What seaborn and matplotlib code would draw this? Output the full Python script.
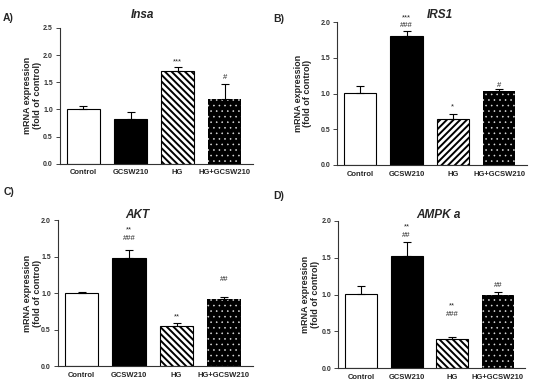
import numpy as np
import pandas as pd
import matplotlib
matplotlib.use('Agg')
import matplotlib.pyplot as plt
import seaborn as sns

# group means (fold of control), upper SEM and significance marks
groups = ['Control', 'GCSW210', 'HG', 'HG+GCSW210']

insa_mean = [1.00, 0.82, 1.70, 1.20]
insa_sem = [0.06, 0.14, 0.08, 0.27]
insa_marks = ['', '', '***', '#']

irs1_mean = [1.01, 1.80, 0.64, 1.03]
irs1_sem = [0.09, 0.08, 0.08, 0.03]
irs1_marks = ['', '***\n###', '*', '#']

akt_mean = [1.00, 1.48, 0.55, 0.92]
akt_sem = [0.01, 0.11, 0.04, 0.03]
akt_marks = ['', '**\n###', '**', '##']

ampk_mean = [1.01, 1.53, 0.40, 1.00]
ampk_sem = [0.10, 0.19, 0.02, 0.04]
ampk_marks = ['', '**\n##', '**\n###', '##']

sns.set_theme(style='ticks')
plt.rcParams['font.family'] = ['Liberation Sans', 'DejaVu Sans']
plt.rcParams['hatch.linewidth'] = 1.4

fig = plt.figure(figsize=(5.35, 3.81), dpi=100)

#%% panel settings: axes rect, ylim, ticks, title, letter, label x, hatch of HG bar, extra pads
panels = [
    dict(mean=insa_mean, sem=insa_sem, marks=insa_marks, title='Insa', letter='A)',
         rect=[0.112, 0.570, 0.361, 0.357], ylim=2.5, yt=[0, 0.5, 1.0, 1.5, 2.0, 2.5],
         tpos=(0.267, 0.976), lpos=(0.006, 0.966), labx=-0.093, hatch='\\\\\\\\\\',
         pads=[2, 2, 1, 2]),
    dict(mean=irs1_mean, sem=irs1_sem, marks=irs1_marks, title='IRS1', letter='B)',
         rect=[0.630, 0.567, 0.355, 0.375], ylim=2.0, yt=[0, 0.5, 1.0, 1.5, 2.0],
         tpos=(0.822, 0.976), lpos=(0.510, 0.963), labx=-0.13, hatch='/////',
         pads=[2, 1, 2, 0]),
    dict(mean=akt_mean, sem=akt_sem, marks=akt_marks, title='AKT', letter='C)',
         rect=[0.108, 0.039, 0.364, 0.383], ylim=2.0, yt=[0, 0.5, 1.0, 1.5, 2.0],
         tpos=(0.256, 0.451), lpos=(0.006, 0.509), labx=-0.082, hatch='\\\\\\\\\\',
         pads=[2, 6, 2, 10]),
    dict(mean=ampk_mean, sem=ampk_sem, marks=ampk_marks, title='AMPK a', letter='D)',
         rect=[0.632, 0.034, 0.350, 0.386], ylim=2.0, yt=[0, 0.5, 1.0, 1.5, 2.0],
         tpos=(0.819, 0.451), lpos=(0.510, 0.499), labx=-0.096, hatch='\\\\\\\\\\',
         pads=[2, 2, 14, 2]),
]

for p in panels:
    ax = fig.add_axes(p['rect'])
    df = pd.DataFrame({'group': groups, 'value': p['mean']})
    sns.barplot(data=df, x='group', y='value', hue='group', order=groups,
                palette=['white', 'black', 'white', 'black'], legend=False,
                width=0.7, edgecolor='black', linewidth=0.8, errorbar=None, ax=ax)
    bars = ax.patches
    bars[2].set_hatch(p['hatch'])
    bars[3].set_hatch('...')
    bars[3].set_edgecolor('#e0e0e0')
    bars[3].set_linewidth(0)
    bars[3].set_hatch_linewidth(0.4)

    x = np.arange(len(groups))
    err = np.array(p['sem'])
    ax.errorbar(x, p['mean'], yerr=[np.zeros_like(err), err], fmt='none',
                ecolor='black', elinewidth=0.8, capsize=3, capthick=0.8, zorder=3)

    for i, m in enumerate(p['marks']):
        if m:
            ax.annotate(m, xy=(x[i], p['mean'][i] + err[i]), xytext=(0, p['pads'][i]),
                        textcoords='offset points', ha='center', va='bottom',
                        fontsize=5.5, linespacing=1.2, color='#222222')

    ax.set_xlim(-0.5, 3.6)
    ax.set_ylim(0, p['ylim'])
    ax.set_yticks(p['yt'])
    ax.set_yticklabels(['%.1f' % v for v in p['yt']], fontsize=5, fontweight='bold', color='#333333')
    ax.set_xticks(x)
    ax.set_xticklabels(groups, fontsize=5.5, fontweight='bold')
    ax.tick_params(axis='x', length=0, pad=4)
    ax.tick_params(axis='y', length=3, width=0.6, pad=2)
    ax.set_xlabel('')
    ax.set_ylabel('mRNA expression\n(fold of control)', fontsize=6.5, fontweight='bold', linespacing=1.1)
    ax.yaxis.set_label_coords(p['labx'], 0.5)
    sns.despine(ax=ax)
    for s in ['left', 'bottom']:
        ax.spines[s].set_linewidth(0.8)
        ax.spines[s].set_color('#333333')

    fig.text(p['tpos'][0], p['tpos'][1], p['title'], fontsize=8.5, fontweight='bold',
             fontstyle='italic', ha='center', va='top')
    fig.text(p['lpos'][0], p['lpos'][1], p['letter'], fontsize=7.5, fontweight='bold',
             ha='left', va='top')

plt.savefig('out.png', dpi=100)
